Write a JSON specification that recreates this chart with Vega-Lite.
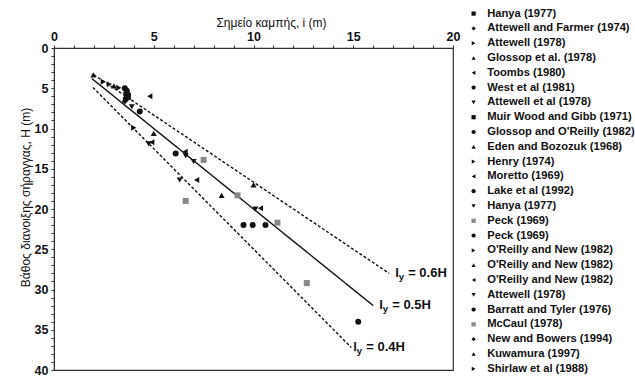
{
  "$schema": "https://vega.github.io/schema/vega-lite/v6.json",
  "width": 399,
  "height": 322,
  "autosize": "none",
  "padding": {"left": 54, "top": 48, "right": 182, "bottom": 8},
  "background": "white",
  "config": {
    "view": {"stroke": "#333", "strokeWidth": 1.2},
    "font": "Liberation Sans"
  },
  "datasets": {
    "cases": [
      {"i": 1.97, "H": 3.35, "s": "04 Glossop et al. (1978)"},
      {"i": 2.47, "H": 4.2, "s": "03 Attewell (1978)"},
      {"i": 2.77, "H": 4.5, "s": "11 Henry (1974)"},
      {"i": 3.0, "H": 4.7, "s": "10 Eden and Bozozuk (1968)"},
      {"i": 3.25, "H": 4.95, "s": "25 Shirlaw et al (1988)"},
      {"i": 3.55, "H": 5.0, "s": "06 West et al (1981)"},
      {"i": 3.65, "H": 5.3, "s": "13 Lake et al (1992)"},
      {"i": 3.6, "H": 5.6, "s": "02 Attewell and Farmer (1974)"},
      {"i": 3.7, "H": 5.9, "s": "08 Muir Wood and Gibb (1971)"},
      {"i": 3.7, "H": 6.1, "s": "01 Hanya (1977)"},
      {"i": 3.6, "H": 6.3, "s": "09 Glossop and O'Reilly (1982)"},
      {"i": 3.55, "H": 6.6, "s": "23 New and Bowers (1994)"},
      {"i": 4.8, "H": 6.0, "s": "12 Moretto (1969)"},
      {"i": 3.9, "H": 7.3, "s": "07 Attewell et al (1978)"},
      {"i": 4.3, "H": 7.9, "s": "21 Barratt and Tyler (1976)"},
      {"i": 4.0, "H": 9.9, "s": "17 O'Reilly and New (1982)"},
      {"i": 5.0, "H": 10.6, "s": "18 O'Reilly and New (1982)"},
      {"i": 4.9, "H": 11.7, "s": "19 O'Reilly and New (1982)"},
      {"i": 4.75, "H": 11.9, "s": "20 Attewell (1978)"},
      {"i": 6.1, "H": 13.1, "s": "16 Peck (1969)"},
      {"i": 6.57, "H": 12.9, "s": "19 O'Reilly and New (1982)"},
      {"i": 6.6, "H": 13.4, "s": "14 Hanya (1977)"},
      {"i": 7.0, "H": 14.1, "s": "07 Attewell et al (1978)"},
      {"i": 7.5, "H": 13.9, "s": "15 Peck (1969)"},
      {"i": 6.3, "H": 16.4, "s": "20 Attewell (1978)"},
      {"i": 7.15, "H": 16.4, "s": "05 Toombs (1980)"},
      {"i": 6.6, "H": 19.0, "s": "22 McCaul (1978)"},
      {"i": 10.0, "H": 17.0, "s": "24 Kuwamura (1997)"},
      {"i": 8.4, "H": 18.3, "s": "18 O'Reilly and New (1982)"},
      {"i": 9.2, "H": 18.3, "s": "15 Peck (1969)"},
      {"i": 10.1, "H": 20.0, "s": "14 Hanya (1977)"},
      {"i": 10.35, "H": 19.9, "s": "12 Moretto (1969)"},
      {"i": 9.5, "H": 22.0, "s": "21 Barratt and Tyler (1976)"},
      {"i": 9.96, "H": 22.0, "s": "21 Barratt and Tyler (1976)"},
      {"i": 10.6, "H": 22.0, "s": "16 Peck (1969)"},
      {"i": 11.2, "H": 21.7, "s": "22 McCaul (1978)"},
      {"i": 12.67, "H": 29.2, "s": "15 Peck (1969)"},
      {"i": 15.25, "H": 34.0, "s": "06 West et al (1981)"}
    ],
    "trends": [
      {"i": 2.0, "H": 3.33, "k": "0.6H"},
      {"i": 16.8, "H": 28.0, "k": "0.6H"},
      {"i": 1.9, "H": 3.8, "k": "0.5H"},
      {"i": 16.0, "H": 32.0, "k": "0.5H"},
      {"i": 1.95, "H": 4.9, "k": "0.4H"},
      {"i": 14.9, "H": 37.2, "k": "0.4H"}
    ],
    "tags": [
      {"i": 17.1, "H": 27.9, "t": "= 0.6H"},
      {"i": 16.3, "H": 31.9, "t": "= 0.5H"},
      {"i": 15.0, "H": 37.1, "t": "= 0.4H"}
    ]
  },
  "encoding": {
    "x": {
      "field": "i", "type": "quantitative",
      "scale": {"domain": [0, 20], "nice": false, "zero": false},
      "axis": {
        "orient": "top",
        "title": "Σημείο καμπής, i (m)",
        "values": [0,1,2,3,4,5,6,7,8,9,10,11,12,13,14,15,16,17,18,19,20],
        "labelExpr": "datum.value % 5 === 0 ? datum.label : ''",
        "grid": false, "tickSize": 3, "tickColor": "#333", "domainColor": "#333",
        "labelFont": "Liberation Sans", "labelFontSize": 12.5, "labelFontWeight": "bold", "labelColor": "#111",
        "labelPadding": 2, "labelFlush": false,
        "titleFont": "Liberation Sans", "titleFontSize": 12, "titleFontWeight": "normal", "titleColor": "#111",
        "titleX": 217, "titleY": -26, "titleBaseline": "middle", "titleAlign": "center"
      }
    },
    "y": {
      "field": "H", "type": "quantitative",
      "scale": {"domain": [0, 40], "nice": false, "zero": false, "reverse": true},
      "axis": {
        "title": "Βάθος διανοιξης σήραγγας,   H (m)",
        "values": [0,1,2,3,4,5,6,7,8,9,10,11,12,13,14,15,16,17,18,19,20,21,22,23,24,25,26,27,28,29,30,31,32,33,34,35,36,37,38,39,40],
        "labelExpr": "datum.value % 5 === 0 ? datum.label : ''",
        "grid": false, "tickSize": 3, "tickColor": "#333", "domainColor": "#333",
        "labelFont": "Liberation Sans", "labelFontSize": 12.5, "labelFontWeight": "bold", "labelColor": "#111",
        "labelPadding": 3, "labelFlush": false,
        "titleFont": "Liberation Sans", "titleFontSize": 12, "titleFontWeight": "normal", "titleColor": "#111",
        "titleX": -29, "titleY": 149, "titleAngle": -90, "titleBaseline": "middle", "titleAlign": "center"
      }
    }
  },
  "layer": [
    {
      "data": {"name": "trends"},
      "mark": {"type": "line", "color": "#111", "strokeWidth": 1.4},
      "encoding": {
        "detail": {"field": "k"},
        "strokeDash": {
          "field": "k", "type": "nominal",
          "scale": {"domain": ["0.4H", "0.5H", "0.6H"], "range": [[3, 2], [1, 0], [3, 2]]},
          "legend": null
        }
      }
    },
    {
      "data": {"name": "cases"},
      "mark": {"type": "point", "filled": true, "opacity": 1, "size": 36},
      "encoding": {
        "shape": {
          "field": "s", "type": "nominal",
          "scale": {
            "domain": ["01 Hanya (1977)", "02 Attewell and Farmer (1974)", "03 Attewell (1978)", "04 Glossop et al. (1978)", "05 Toombs (1980)", "06 West et al (1981)", "07 Attewell et al (1978)", "08 Muir Wood and Gibb (1971)", "09 Glossop and O'Reilly (1982)", "10 Eden and Bozozuk (1968)", "11 Henry (1974)", "12 Moretto (1969)", "13 Lake et al (1992)", "14 Hanya (1977)", "15 Peck (1969)", "16 Peck (1969)", "17 O'Reilly and New (1982)", "18 O'Reilly and New (1982)", "19 O'Reilly and New (1982)", "20 Attewell (1978)", "21 Barratt and Tyler (1976)", "22 McCaul (1978)", "23 New and Bowers (1994)", "24 Kuwamura (1997)", "25 Shirlaw et al (1988)"],
            "range": ["square", "diamond", "triangle-right", "triangle-up", "triangle-left", "circle", "triangle-down", "square", "circle", "triangle-up", "triangle-right", "triangle-left", "circle", "triangle-down", "square", "circle", "triangle-right", "triangle-up", "triangle-left", "triangle-down", "circle", "square", "diamond", "triangle-up", "triangle-right"]
          },
          "legend": {
            "title": null, "orient": "none", "legendX": 414, "legendY": -40,
            "symbolLimit": 30, "labelLimit": 200,
            "labelExpr": "slice(datum.label, 3)",
            "labelFont": "Liberation Sans", "labelFontSize": 11.2, "labelFontWeight": "bold", "labelColor": "#111",
            "symbolSize": 18, "rowPadding": 2.8, "labelOffset": 8, "padding": 0, "offset": 0
          }
        },
        "color": {
          "field": "s", "type": "nominal",
          "scale": {
            "domain": ["01 Hanya (1977)", "02 Attewell and Farmer (1974)", "03 Attewell (1978)", "04 Glossop et al. (1978)", "05 Toombs (1980)", "06 West et al (1981)", "07 Attewell et al (1978)", "08 Muir Wood and Gibb (1971)", "09 Glossop and O'Reilly (1982)", "10 Eden and Bozozuk (1968)", "11 Henry (1974)", "12 Moretto (1969)", "13 Lake et al (1992)", "14 Hanya (1977)", "15 Peck (1969)", "16 Peck (1969)", "17 O'Reilly and New (1982)", "18 O'Reilly and New (1982)", "19 O'Reilly and New (1982)", "20 Attewell (1978)", "21 Barratt and Tyler (1976)", "22 McCaul (1978)", "23 New and Bowers (1994)", "24 Kuwamura (1997)", "25 Shirlaw et al (1988)"],
            "range": ["#111", "#111", "#111", "#111", "#111", "#111", "#111", "#111", "#111", "#111", "#111", "#111", "#111", "#111", "#888", "#111", "#111", "#111", "#111", "#111", "#111", "#888", "#111", "#111", "#111"]
          },
          "legend": {
            "title": null, "orient": "none", "legendX": 414, "legendY": -40,
            "symbolLimit": 30, "labelLimit": 200,
            "labelExpr": "slice(datum.label, 3)",
            "labelFont": "Liberation Sans", "labelFontSize": 11.2, "labelFontWeight": "bold", "labelColor": "#111",
            "symbolSize": 18, "rowPadding": 2.8, "labelOffset": 8, "padding": 0, "offset": 0
          }
        }
      }
    },
    {
      "data": {"name": "tags"},
      "mark": {"type": "text", "text": "l", "align": "left", "baseline": "middle", "font": "Liberation Sans", "fontSize": 13, "fontWeight": "bold", "color": "#111"},
      "encoding": {}
    },
    {
      "data": {"name": "tags"},
      "mark": {"type": "text", "text": "y", "align": "left", "baseline": "middle", "dx": 3.5, "dy": 4.5, "font": "Liberation Sans", "fontSize": 9.5, "fontWeight": "bold", "color": "#111"},
      "encoding": {}
    },
    {
      "data": {"name": "tags"},
      "mark": {"type": "text", "align": "left", "baseline": "middle", "dx": 13, "font": "Liberation Sans", "fontSize": 13, "fontWeight": "bold", "color": "#111"},
      "encoding": {"text": {"field": "t"}}
    }
  ]
}
